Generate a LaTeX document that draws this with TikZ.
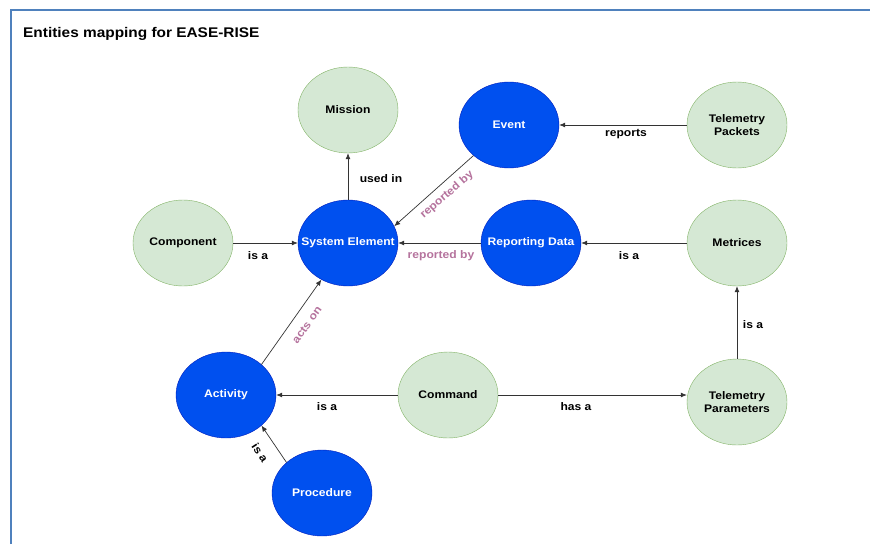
\documentclass[tikz,border=0pt]{standalone}
\usepackage{fontspec}
\setmainfont{Liberation Sans}[FakeStretch=1.1]
\usetikzlibrary{shapes.geometric, arrows.meta}
\definecolor{greenfill}{HTML}{D5E8D4}
\definecolor{greenline}{HTML}{82B366}
\definecolor{bluefill}{HTML}{0050EF}
\definecolor{blueline}{HTML}{001DBC}
\definecolor{pinktext}{HTML}{B5739D}
\definecolor{frameblue}{HTML}{4F81BD}

\begin{document}
\begin{tikzpicture}[x=1pt, y=1pt, >={Latex[length=6pt,width=5pt]},
    entity/.style={ellipse, draw=greenline, fill=greenfill, minimum width=100pt, minimum height=86pt,
        inner xsep=-15pt, inner ysep=0pt, align=center, font=\bfseries\fontsize{11}{13}\selectfont},
    keyentity/.style={entity, draw=blueline, fill=bluefill, text=white},
    lbl/.style={font=\bfseries\fontsize{11}{13}\selectfont, inner sep=1pt},
    pinklbl/.style={lbl, text=pinktext},
    link/.style={->, draw=black!80, line width=0.7pt}]
    \useasboundingbox (0,0) rectangle (870,-544);

    % Rahmen
    \draw[frameblue, line width=1.5pt] (11,-544) -- (11,-10) -- (870,-10);
    \node[anchor=base west, inner sep=0pt, font=\bfseries\fontsize{14}{16}\selectfont] (title) at (23,-37) {Entities mapping for EASE-RISE};

    % Entitaeten
    \node[entity] (mission) at (348,-110) {Mission};
    \node[keyentity] (event) at (509,-125) {Event};
    \node[entity] (packets) at (737,-125) {Telemetry\\Packets};
    \node[entity] (component) at (183,-243) {Component};
    \node[keyentity] (sysel) at (348,-243) {System Element};
    \node[keyentity] (repdata) at (531,-243) {Reporting Data};
    \node[entity] (metrices) at (737,-243) {Metrices};
    \node[keyentity] (activity) at (226,-395) {Activity};
    \node[entity] (command) at (448,-395) {Command};
    \node[entity] (params) at (737,-402) {Telemetry\\Parameters};
    \node[keyentity] (procedure) at (322,-493) {Procedure};

    % Beziehungen
    \draw[link] (sysel) -- (mission);
    \draw[link] (event.south west) -- (sysel.20);
    \draw[link] (packets) -- (event);
    \draw[link] (component) -- (sysel);
    \draw[link] (repdata) -- (sysel);
    \draw[link] (metrices) -- (repdata);
    \draw[link] (params) -- (metrices);
    \draw[link] (activity.north east) -- (sysel.234);
    \draw[link] (command) -- (activity);
    \draw[link] (command.east) -- (params.west |- command.east);
    \draw[link] (procedure.north west) -- (activity.south east);

    % Beschriftungen
    \node[lbl] (usedin) at (381,-179) {used in};
    \node[pinklbl, rotate=41] (repby1) at (447,-195) {reported by};
    \node[lbl] (reports) at (626,-134) {reports};
    \node[pinklbl] (repby2) at (441,-256) {reported by};
    \node[pinklbl, rotate=54] (actson) at (307,-325) {acts on};
    \node[lbl] (hasa) at (576,-407) {has a};
    \foreach \n/\x/\y/\r in {isa1/258/-256/0, isa2/629/-256/0, isa3/753/-325/0, isa4/327/-407/0, isa5/260/-453/-57}
        \node[lbl, rotate=\r] (\n) at (\x,\y) {is a};
\end{tikzpicture}
\end{document}
